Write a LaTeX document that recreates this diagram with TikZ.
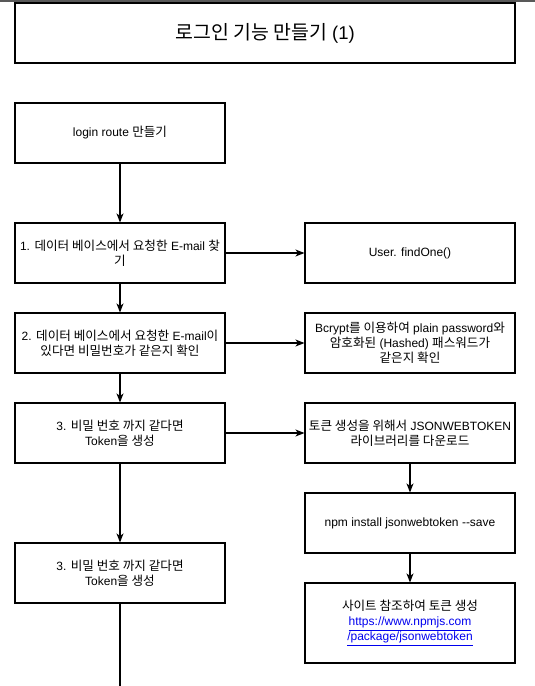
\documentclass[tikz,border=0pt]{standalone}
\usepackage{fontspec}
\setmainfont{Liberation Sans}
\newfontfamily\krfont[Scale=1.05]{Noto Sans CJK KR}
\newcommand\kr[1]{{\krfont #1}}
\definecolor{linkblue}{RGB}{0,0,238}
\newcommand\lnk[1]{\textcolor{linkblue}{\underline{#1}}}
\usetikzlibrary{arrows.meta}

\begin{document}
\begin{tikzpicture}[
  x=1pt,y=-1pt,
  font=\fontsize{12}{15}\selectfont,
  box/.style={draw,line width=1.1pt,minimum width=210pt,minimum height=60pt,align=center,inner sep=2pt},
  ar/.style={-{Stealth[length=9pt,width=7pt,inset=2.5pt]},line width=1.1pt}
]
\useasboundingbox (0,0) rectangle (535,686);
\fill[black!65] (0,0) rectangle (535,2);
\fill[black!65] (72.5,0) rectangle (73.5,3);
\node[box,minimum width=500pt,font=\fontsize{18.5}{22}\selectfont] (ttl) at (265,33) {\kr{로그인 기능 만들기} (1)};
% left column
\node[box] (rt) at (120,133) {login route \kr{만들기}};
\node[box] (s1) at (120,253) {1. \kr{데이터 베이스에서 요청한} E-mail \kr{찾}\\\kr{기}};
\node[box] (s2) at (120,343) {2. \kr{데이터 베이스에서 요청한} E-mail\kr{이}\\\kr{있다면 비밀번호가 같은지 확인}};
\node[box] (s3) at (120,433) {3. \kr{비밀 번호 까지 같다면}\\Token\kr{을 생성}};
\node[box] (s4) at (120,573) {3. \kr{비밀 번호 까지 같다면}\\Token\kr{을 생성}};
\coordinate (end) at (120,686);
% right column
\node[box] (usr) at (410,253) {User. findOne()};
\node[box] (bc) at (410,343) {Bcrypt\kr{를 이용하여} plain password\kr{와}\\\kr{암호화된} (Hashed) \kr{패스워드가}\\\kr{같은지 확인}};
\node[box] (jwt) at (410,433) {\kr{토큰 생성을 위해서} JSONWEBTOKEN\\\kr{라이브러리를 다운로드}};
\node[box] (npm) at (410,523) {npm install jsonwebtoken -{}-save};
\node[box,minimum height=80pt] (site) at (410,623) {\kr{사이트 참조하여 토큰 생성}\\\lnk{https://www.npmjs.com}\\\lnk{/package/jsonwebtoken}};
\draw[ar] (rt) -- (s1); \draw[ar] (s1) -- (s2); \draw[ar] (s2) -- (s3);
\draw[ar] (s3) -- (s4); \draw[line width=1.1pt] (s4) -- (end);
\draw[ar] (s1) -- (usr); \draw[ar] (s2) -- (bc); \draw[ar] (s3) -- (jwt);
\draw[ar] (jwt) -- (npm); \draw[ar] (npm) -- (site);
\end{tikzpicture}
\end{document}
